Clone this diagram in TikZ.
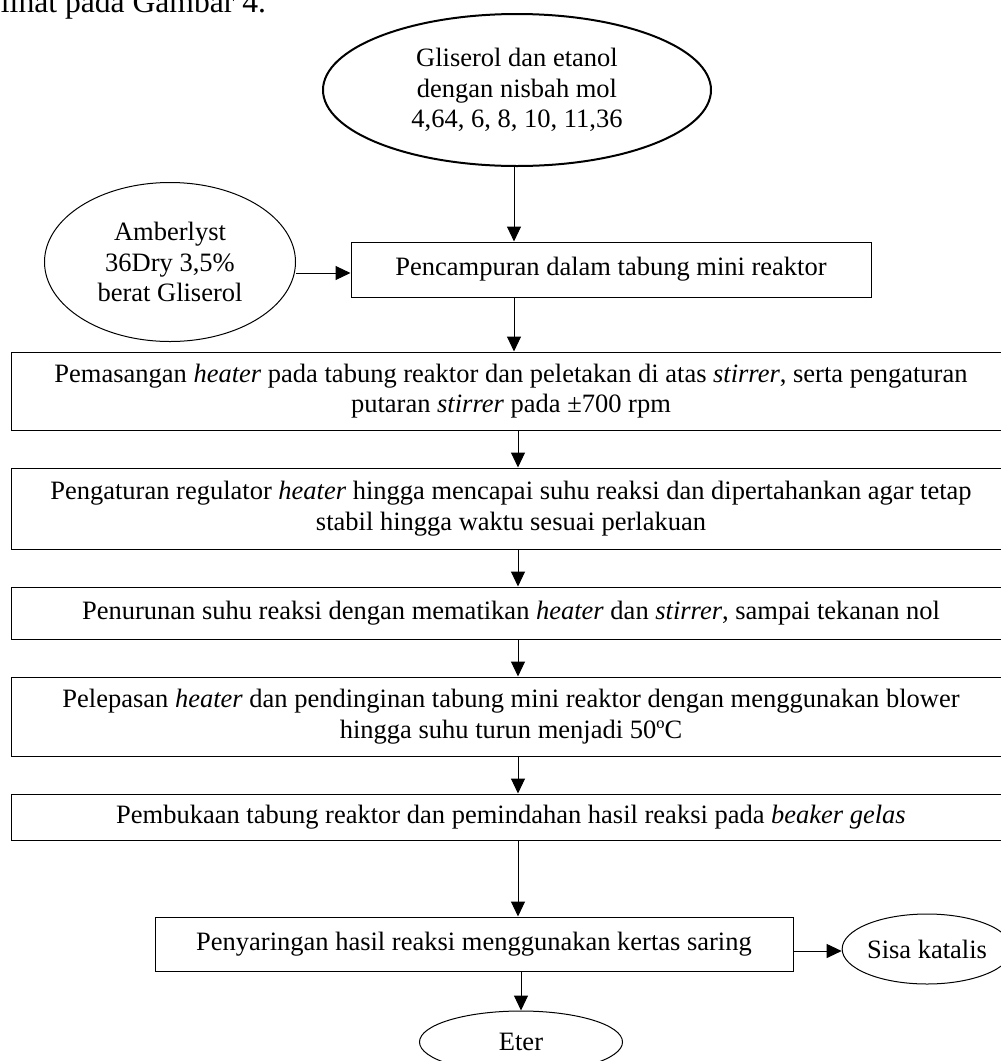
\documentclass[tikz,border=0pt]{standalone}
\usepackage{fontspec}
\setmainfont{Liberation Serif}
\usepackage{tikz}
\usetikzlibrary{arrows.meta,shapes.geometric,positioning,calc}

\begin{document}
\begin{tikzpicture}[x=0.5pt,y=-0.5pt,
	font=\fontsize{13.25pt}{15.3pt}\selectfont,
	kotak/.style={draw,line width=0.5pt,inner sep=0pt,align=center},
	bulat/.style={draw,ellipse,line width=0.5pt,inner sep=0pt,align=center},
	panah/.style={-{Triangle[length=7.5pt,width=7pt]},line width=0.5pt}]
	\useasboundingbox (0,0) rectangle (1001,1061);
	\clip (0,0) rectangle (1001,1061);
	\node[anchor=base east,font=\fontsize{15.8pt}{18pt}\selectfont] (teks) at (273,12) {lihat pada Gambar 4.};
	\node[bulat,line width=1pt,minimum width=194pt,minimum height=76pt] (gliserol) at (517,90) {Gliserol dan etanol\\dengan nisbah mol\\4,64, 6, 8, 10, 11,36};
	\node[bulat,minimum width=125.5pt,minimum height=79.5pt] (amberlyst) at (170,262) {Amberlyst\\36Dry 3,5\%\\berat Gliserol};
	\node[kotak,minimum width=260pt,minimum height=27.5pt] (campur) at (611,269.5) {Pencampuran dalam tabung mini reaktor};
	\node[kotak,minimum width=500pt,minimum height=39pt] (pasang) at (511,391) {Pemasangan \textit{heater} pada tabung reaktor dan peletakan di atas \textit{stirrer}, serta pengaturan\\putaran \textit{stirrer} pada ±700 rpm};
	\node[kotak,minimum width=500pt,minimum height=40.5pt] (atur) at (511,508.5) {Pengaturan regulator \textit{heater} hingga mencapai suhu reaksi dan dipertahankan agar tetap\\stabil hingga waktu sesuai perlakuan};
	\node[kotak,minimum width=500pt,minimum height=26pt] (turun) at (511,613) {Penurunan suhu reaksi dengan mematikan \textit{heater} dan \textit{stirrer}, sampai tekanan nol};
	\node[kotak,minimum width=500pt,minimum height=39.5pt] (lepas) at (511,716.5) {Pelepasan \textit{heater} dan pendinginan tabung mini reaktor dengan menggunakan blower\\hingga suhu turun menjadi 50ºC};
	\node[kotak,minimum width=500pt,minimum height=23pt] (buka) at (511,817) {Pembukaan tabung reaktor dan pemindahan hasil reaksi pada \textit{beaker gelas}};
	\node[kotak,minimum width=319pt,minimum height=27pt] (saring) at (474,944) {Penyaringan hasil reaksi menggunakan kertas saring};
	\node[bulat,minimum width=84pt,minimum height=35pt] (sisa) at (927,949) {Sisa katalis};
	\node[bulat,minimum width=101.5pt,minimum height=31pt] (eter) at (521,1042) {Eter};
	
	\coordinate (tengah) at (518,0);
	\draw[panah] (gliserol.south -| 514,0) -- (campur.north -| 514,0);
	\draw[panah] (amberlyst.east |- 0,273) -- (campur.west |- 0,273);
	\draw[panah] (campur.south -| 514,0) -- (pasang.north -| 514,0);
	\foreach \a/\b in {pasang/atur,atur/turun,turun/lepas,lepas/buka,buka/saring}
		\draw[panah] (\a.south -| tengah) -- (\b.north -| tengah);
	\draw[panah] (saring.south -| 521,0) -- (eter.north);
	\draw[panah] (saring.east |- 0,951) -- (sisa.west |- 0,951);
\end{tikzpicture}
\end{document}
